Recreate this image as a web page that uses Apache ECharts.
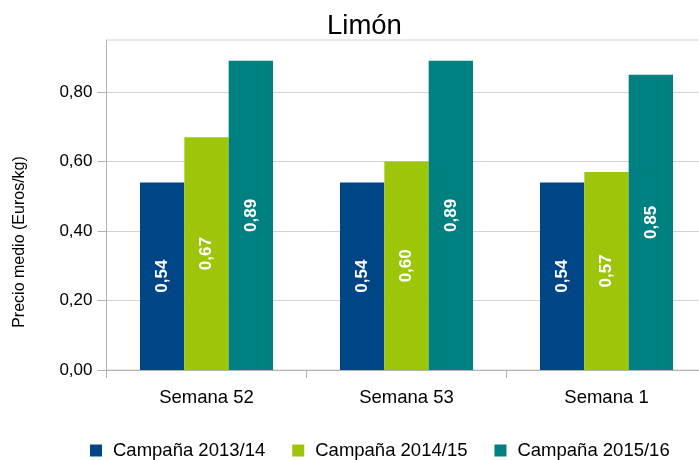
<!DOCTYPE html>
<html>
<head>
<meta charset="utf-8">
<script src="https://cdn.jsdelivr.net/npm/echarts@6/dist/echarts.min.js"></script>
<style>html,body{margin:0;padding:0;background:#fff;}#c{width:699px;height:460px;}</style>
</head>
<body>
<div id="c"></div>
<script>
var categories = ['Semana 52', 'Semana 53', 'Semana 1'];
var seriesNames = ['Campaña 2013/14', 'Campaña 2014/15', 'Campaña 2015/16'];
var camp1314 = [0.54, 0.54, 0.54];
var camp1415 = [0.67, 0.60, 0.57];
var camp1516 = [0.89, 0.89, 0.85];
var yTicks = [0, 0.2, 0.4, 0.6, 0.8];
var colors = ['#004586', '#9dc60b', '#008080'];

var FONT = 'Liberation Sans, Arial, sans-serif';
function comma(v, d) { return v.toFixed(d).replace('.', ','); }

var labelOpt = {
  show: true, position: 'inside', rotate: 90, color: '#fff',
  fontWeight: 'bold', fontSize: 17, fontFamily: FONT,
  formatter: function (p) { return comma(p.value, 2); }
};

function mk(name, data, color) {
  return {
    name: name, type: 'bar', data: data,
    itemStyle: { color: color },
    barGap: '0%', barCategoryGap: '33.5%',
    label: labelOpt
  };
}

var chart = echarts.init(document.getElementById('c'));
chart.setOption({
  animation: false,
  title: {
    text: 'Limón', left: 327, top: 12, padding: 0,
    textStyle: { fontSize: 27.5, fontWeight: 'normal', color: '#000', fontFamily: FONT }
  },
  legend: {
    left: 90, top: 441, padding: 0, itemWidth: 12, itemHeight: 12, itemGap: 27,
    icon: 'rect',
    textStyle: { fontSize: 18.5, color: '#000', fontFamily: FONT, padding: [0, 0, 0, 6] },
    data: seriesNames
  },
  grid: {
    left: 106.5, width: 600, top: 40, height: 330,
    outerBoundsMode: 'none', containLabel: false,
    show: true, borderColor: '#d4d4d4', borderWidth: 1
  },
  graphic: [{
    type: 'text', x: 20, y: 242, rotation: Math.PI / 2,
    style: { text: 'Precio medio (Euros/kg)', fontSize: 16, fontFamily: FONT, fill: '#000', align: 'center', verticalAlign: 'middle' }
  }],
  xAxis: {
    type: 'category', data: categories,
    axisLine: { lineStyle: { color: '#b3b3b3' } },
    axisTick: { show: true, length: 8, lineStyle: { color: '#b3b3b3' } },
    axisLabel: { fontSize: 18.5, color: '#000', fontFamily: FONT, margin: 18 }
  },
  yAxis: {
    type: 'value', min: 0, max: 0.95, interval: 0.2,
    axisLine: { show: true, lineStyle: { color: '#b3b3b3' } },
    axisTick: { show: true, length: 9, customValues: yTicks, lineStyle: { color: '#b3b3b3' } },
    splitLine: { lineStyle: { color: '#d4d4d4' } },
    axisLabel: {
      fontSize: 17, color: '#000', fontFamily: FONT, margin: 14,
      customValues: yTicks,
      formatter: function (v) { return comma(v, 2); }
    }
  },
  series: [
    mk(seriesNames[0], camp1314, colors[0]),
    mk(seriesNames[1], camp1415, colors[1]),
    mk(seriesNames[2], camp1516, colors[2])
  ]
});
</script>
</body>
</html>
